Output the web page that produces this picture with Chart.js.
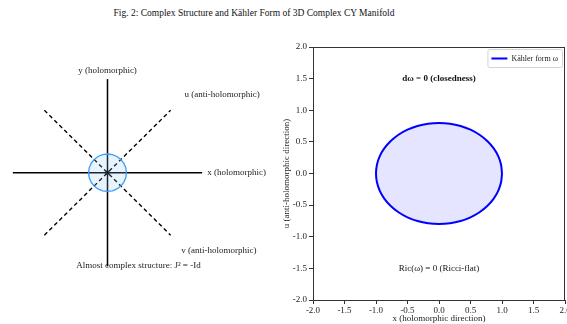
<!DOCTYPE html>
<html>
<head>
<meta charset="utf-8">
<script src="https://cdn.jsdelivr.net/npm/chart.js@4.4.0/dist/chart.umd.min.js"></script>
<style>
  html, body { margin: 0; padding: 0; background: #fff; width: 567px; height: 324px; overflow: hidden; }
  #title { position: absolute; left: 0; top: 8px; width: 508px; text-align: center;
           font: 9.5px 'Liberation Serif', 'Times New Roman', serif; color: #111; }
  #left { position: absolute; left: 0; top: 0; }
  #right { position: absolute; left: 260px; top: 0; }
</style>
</head>
<body>
<div id="title">Fig. 2: Complex Structure and Kähler Form of 3D Complex CY Manifold</div>
<canvas id="left" width="280" height="324"></canvas>
<canvas id="right" width="340" height="324"></canvas>
<script>
// --- left panel: almost complex structure ---
const xHoloLine = [{x: -1.5, y: 0}, {x: 1.5, y: 0}];
const yHoloLine = [{x: 0, y: -1.5}, {x: 0, y: 1.5}];
const uAntiLine = [{x: -1, y: -1}, {x: 1, y: 1}];
const vAntiLine = [{x: -1, y: 1}, {x: 1, y: -1}];
const originPoint = [{x: 0, y: 0}];
// circle r = 0.3, every 15 degrees
const jCircle = [
  {x: 0.3, y: 0}, {x: 0.29, y: 0.078}, {x: 0.26, y: 0.15}, {x: 0.212, y: 0.212},
  {x: 0.15, y: 0.26}, {x: 0.078, y: 0.29}, {x: 0, y: 0.3}, {x: -0.078, y: 0.29},
  {x: -0.15, y: 0.26}, {x: -0.212, y: 0.212}, {x: -0.26, y: 0.15}, {x: -0.29, y: 0.078},
  {x: -0.3, y: 0}, {x: -0.29, y: -0.078}, {x: -0.26, y: -0.15}, {x: -0.212, y: -0.212},
  {x: -0.15, y: -0.26}, {x: -0.078, y: -0.29}, {x: 0, y: -0.3}, {x: 0.078, y: -0.29},
  {x: 0.15, y: -0.26}, {x: 0.212, y: -0.212}, {x: 0.26, y: -0.15}, {x: 0.29, y: -0.078},
  {x: 0.3, y: 0}
];
const leftLabels = [
  {text: 'y (holomorphic)', x: 0, y: 1.64, align: 'center'},
  {text: 'u (anti-holomorphic)', x: 1.22, y: 1.25, align: 'left'},
  {text: 'x (holomorphic)', x: 1.58, y: 0, align: 'left'},
  {text: 'v (anti-holomorphic)', x: 1.17, y: -1.25, align: 'left'},
  {text: 'Almost complex structure: J\u00b2 = -Id', x: 0.49, y: -1.49, align: 'center'}
];

// --- right panel: Kähler form ---
// ellipse x radius 1.0, u radius 0.8, every 10 degrees
const kahlerEllipse = [
  {x: 1, y: 0}, {x: 0.985, y: 0.139}, {x: 0.94, y: 0.274}, {x: 0.866, y: 0.4},
  {x: 0.766, y: 0.514}, {x: 0.643, y: 0.613}, {x: 0.5, y: 0.693}, {x: 0.342, y: 0.752},
  {x: 0.174, y: 0.788}, {x: 0, y: 0.8},
  {x: -0.174, y: 0.788}, {x: -0.342, y: 0.752}, {x: -0.5, y: 0.693}, {x: -0.643, y: 0.613},
  {x: -0.766, y: 0.514}, {x: -0.866, y: 0.4}, {x: -0.94, y: 0.274}, {x: -0.985, y: 0.139},
  {x: -1, y: 0},
  {x: -0.985, y: -0.139}, {x: -0.94, y: -0.274}, {x: -0.866, y: -0.4}, {x: -0.766, y: -0.514},
  {x: -0.643, y: -0.613}, {x: -0.5, y: -0.693}, {x: -0.342, y: -0.752}, {x: -0.174, y: -0.788},
  {x: 0, y: -0.8},
  {x: 0.174, y: -0.788}, {x: 0.342, y: -0.752}, {x: 0.5, y: -0.693}, {x: 0.643, y: -0.613},
  {x: 0.766, y: -0.514}, {x: 0.866, y: -0.4}, {x: 0.94, y: -0.274}, {x: 0.985, y: -0.139},
  {x: 1, y: 0}
];
const axisMin = -2.0;
const axisMax = 2.0;
const tickStep = 0.5;
const rightLabels = [
  {text: 'd\u03c9 = 0 (closedness)', x: 0, y: 1.5, bold: true},
  {text: 'Ric(\u03c9) = 0 (Ricci-flat)', x: 0, y: -1.5, bold: false}
];

const serif = "'Liberation Serif', 'Times New Roman', serif";
Chart.defaults.font.family = serif;
Chart.defaults.font.size = 9;
Chart.defaults.color = '#222';
Chart.defaults.animation = false;

function line(data, color, width, dash) {
  return {data: data, showLine: true, borderColor: color, borderWidth: width,
          borderDash: dash || [], pointRadius: 0, fill: false, tension: 0};
}

const leftText = {
  id: 'leftText',
  afterDatasetsDraw(chart) {
    const {ctx, scales} = chart;
    ctx.save();
    ctx.fillStyle = '#222';
    ctx.font = '9px ' + serif;
    ctx.textBaseline = 'middle';
    leftLabels.forEach(l => {
      ctx.textAlign = l.align;
      ctx.fillText(l.text, scales.x.getPixelForValue(l.x), scales.y.getPixelForValue(l.y));
    });
    ctx.restore();
  }
};

new Chart(document.getElementById('left'), {
  type: 'scatter',
  data: {
    datasets: [
      {data: jCircle, showLine: true, borderColor: '#3d9cf5', borderWidth: 1.3,
       backgroundColor: 'rgba(135,200,250,0.2)', fill: 'shape', pointRadius: 0, tension: 0},
      line(xHoloLine, '#000', 1.5),
      line(yHoloLine, '#000', 1.5),
      line(uAntiLine, '#000', 1.4, [4, 3]),
      line(vAntiLine, '#000', 1.4, [4, 3]),
      {data: originPoint, pointRadius: 2.2, backgroundColor: '#000', borderWidth: 0}
    ]
  },
  options: {
    responsive: false,
    layout: {padding: 0},
    plugins: {legend: {display: false}, tooltip: {enabled: false}},
    scales: {
      x: {display: false, min: -1.64, max: 2.67},
      y: {display: false, min: -2.359, max: 2.703}
    }
  },
  plugins: [leftText]
});

// frame, annotations and a matplotlib-style legend box in the upper right
const rightDecor = {
  id: 'rightDecor',
  afterDraw(chart) {
    const {ctx, chartArea: a, scales} = chart;
    ctx.save();
    ctx.strokeStyle = '#333';
    ctx.lineWidth = 1;
    ctx.strokeRect(a.left + 0.5, a.top + 0.5, a.right - a.left - 1, a.bottom - a.top);
    ctx.fillStyle = '#111';
    ctx.textAlign = 'center';
    ctx.textBaseline = 'middle';
    rightLabels.forEach(l => {
      ctx.font = (l.bold ? 'bold ' : '') + '9px ' + serif;
      ctx.fillText(l.text, scales.x.getPixelForValue(l.x), scales.y.getPixelForValue(l.y));
    });

    const ds = chart.data.datasets[0];
    ctx.font = '8px ' + serif;
    const tw = ctx.measureText(ds.label).width;
    const w = tw + 28, h = 18;
    const x0 = a.right - 3 - w, y0 = a.top + 2;
    ctx.fillStyle = 'rgba(255,255,255,0.9)';
    ctx.strokeStyle = '#d4d4d4';
    ctx.beginPath();
    ctx.roundRect(x0 + 0.5, y0 + 0.5, w, h, 2);
    ctx.fill();
    ctx.stroke();
    ctx.strokeStyle = ds.borderColor;
    ctx.lineWidth = ds.borderWidth;
    ctx.beginPath();
    ctx.moveTo(x0 + 4, y0 + h / 2 + 0.5);
    ctx.lineTo(x0 + 20, y0 + h / 2 + 0.5);
    ctx.stroke();
    ctx.fillStyle = '#222';
    ctx.textAlign = 'left';
    ctx.fillText(ds.label, x0 + 24, y0 + h / 2 + 1);
    ctx.restore();
  }
};

const tickFmt = v => v.toFixed(1);

new Chart(document.getElementById('right'), {
  type: 'scatter',
  data: {
    datasets: [{
      label: 'K\u00e4hler form \u03c9',
      data: kahlerEllipse,
      showLine: true,
      borderColor: '#0000ff',
      borderWidth: 2,
      backgroundColor: 'rgba(0,0,255,0.1)',
      fill: 'shape',
      pointRadius: 0,
      tension: 0.33
    }]
  },
  options: {
    responsive: false,
    layout: {padding: {top: 47, right: 35, left: 0, bottom: 0}},
    plugins: {tooltip: {enabled: false}, legend: {display: false}},
    scales: {
      x: {
        min: axisMin, max: axisMax,
        afterFit: s => { s.height = 24; },
        border: {display: true, color: '#333'},
        grid: {drawOnChartArea: false, drawTicks: true, tickLength: 4, color: '#333'},
        ticks: {stepSize: tickStep, autoSkip: false, maxRotation: 0, padding: 1, callback: tickFmt},
        title: {display: true, text: 'x (holomorphic direction)', padding: {top: 0, bottom: 0}}
      },
      y: {
        min: axisMin, max: axisMax,
        afterFit: s => { s.width = 53; },
        border: {display: true, color: '#333'},
        grid: {drawOnChartArea: false, drawTicks: true, tickLength: 4, color: '#333'},
        ticks: {stepSize: tickStep, autoSkip: false, padding: 2, callback: tickFmt},
        title: {display: true, text: 'u (anti-holomorphic direction)', padding: {top: 21, bottom: 0}}
      }
    }
  },
  plugins: [rightDecor]
});
</script>
</body>
</html>
